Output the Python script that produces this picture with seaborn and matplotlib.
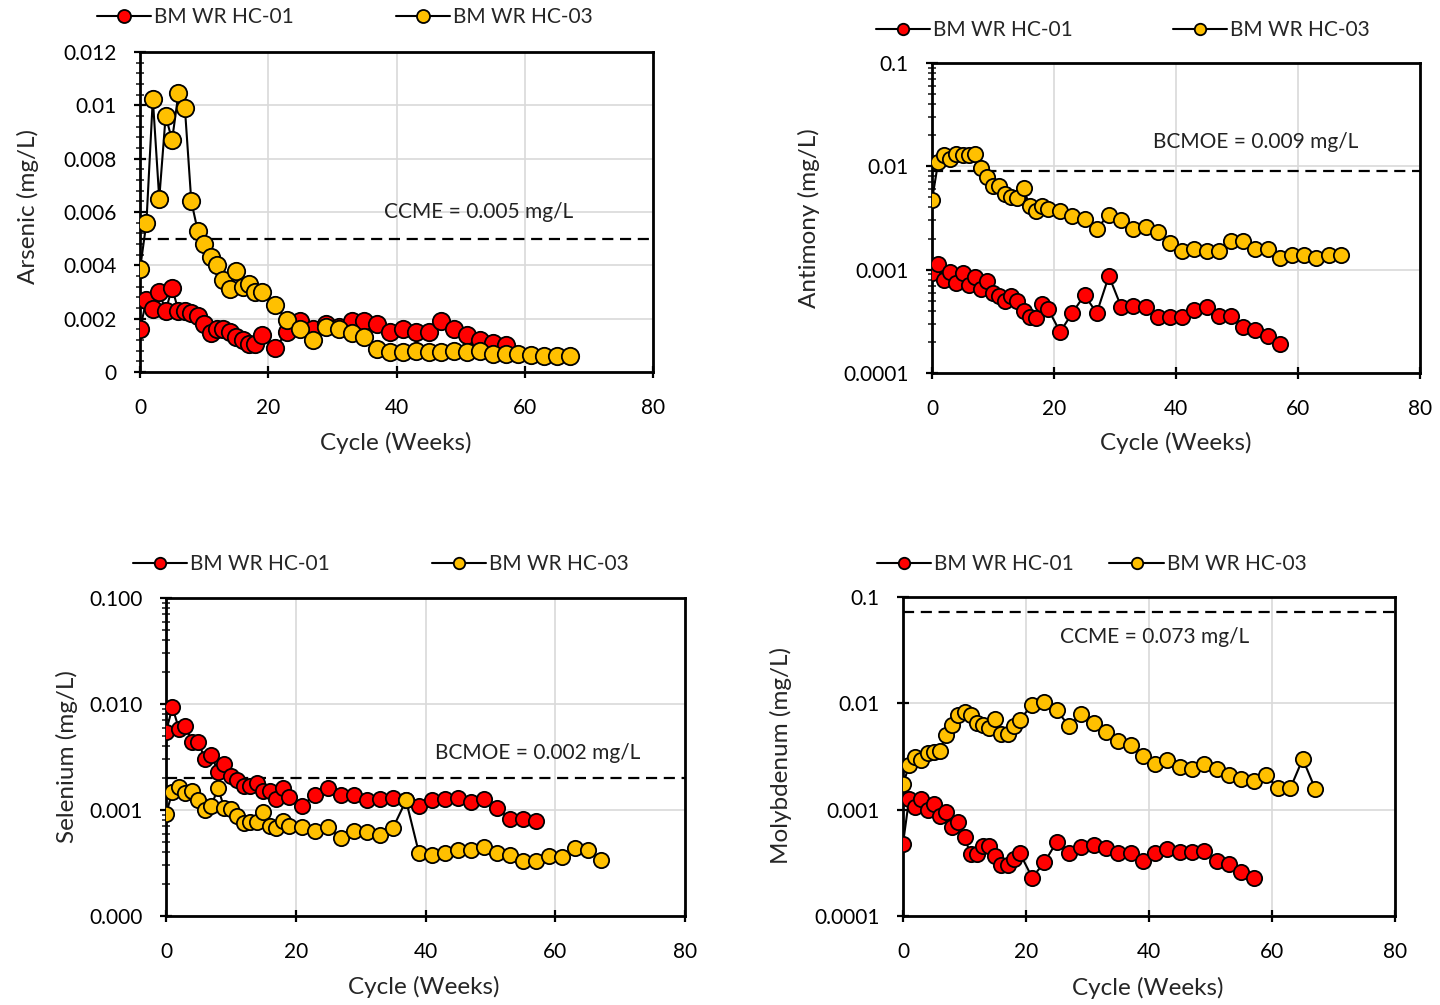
import matplotlib
matplotlib.use("Agg")
import matplotlib.pyplot as plt
import seaborn as sns

sns.set_style("ticks")
plt.rcParams["font.family"] = ["Lato", "DejaVu Sans"]

# ------------------ Dados ------------------ #
semanas_hc01 = [0, 1, 2, 3, 4, 5, 6, 7, 8, 9, 10, 11, 12, 13, 14, 15, 16, 17, 18, 19,
                21, 23, 25, 27, 29, 31, 33, 35, 37, 39, 41, 43, 45, 47, 49, 51, 53, 55, 57]
semanas_hc03 = [0, 1, 2, 3, 4, 5, 6, 7, 8, 9, 10, 11, 12, 13, 14, 15, 16, 17, 18, 19,
                21, 23, 25, 27, 29, 31, 33, 35, 37, 39, 41, 43, 45, 47, 49, 51, 53, 55, 57,
                59, 61, 63, 65, 67]

arsenico_hc01 = [0.0016, 0.0027, 0.00235, 0.003, 0.0023, 0.00315, 0.0023, 0.0023, 0.0022, 0.0021,
                 0.0018, 0.00145, 0.0016, 0.0016, 0.0015, 0.0013, 0.0012, 0.00105, 0.00105, 0.0014,
                 0.0009, 0.0015, 0.0019, 0.0016, 0.0018, 0.0017, 0.0019, 0.0019, 0.0018, 0.0015,
                 0.0016, 0.0015, 0.0015, 0.0019, 0.0016, 0.0014, 0.0012, 0.0011, 0.001]
arsenico_hc03 = [0.00385, 0.0056, 0.01025, 0.0065, 0.0096, 0.0087, 0.01045, 0.0099, 0.0064, 0.0053,
                 0.0048, 0.0043, 0.004, 0.00345, 0.0031, 0.0038, 0.0032, 0.0033, 0.003, 0.003,
                 0.0025, 0.00195, 0.0016, 0.0012, 0.0017, 0.0016, 0.00145, 0.0013, 0.00085, 0.00075,
                 0.00075, 0.00078, 0.00075, 0.00075, 0.00077, 0.00075, 0.00079, 0.00069, 0.00069,
                 0.00069, 0.00062, 0.00059, 0.00059, 0.00059]

antimonio_hc01 = [0.00093, 0.00113, 0.00079, 0.00095, 0.00075, 0.00092, 0.00071, 0.00084, 0.00065, 0.00078,
                  0.0006, 0.00055, 0.0005, 0.00055, 0.0005, 0.0004, 0.00035, 0.00034, 0.00047, 0.00042,
                  0.00025, 0.00038, 0.00057, 0.00038, 0.00087, 0.00044, 0.00045, 0.00044, 0.00035, 0.00035,
                  0.00035, 0.00041, 0.00044, 0.00036, 0.00036, 0.00028, 0.00026, 0.00023, 0.00019]
antimonio_hc03 = [0.0047, 0.0109, 0.0128, 0.0117, 0.0133, 0.0128, 0.0128, 0.0133, 0.0097, 0.0078,
                  0.0065, 0.0064, 0.0054, 0.005, 0.0049, 0.0062, 0.0041, 0.0037, 0.0041, 0.0039,
                  0.0037, 0.0033, 0.0031, 0.0025, 0.0034, 0.003, 0.0025, 0.0026, 0.0023, 0.0018,
                  0.0015, 0.0016, 0.0015, 0.0015, 0.0019, 0.0019, 0.0016, 0.0016, 0.0013, 0.0014,
                  0.0014, 0.0013, 0.0014, 0.0014]

selenio_hc01 = [0.0055, 0.0093, 0.0058, 0.0062, 0.0044, 0.0044, 0.003, 0.0033, 0.0023, 0.0027,
                0.0021, 0.0019, 0.0017, 0.0017, 0.0018, 0.0015, 0.0015, 0.00127, 0.0016, 0.00133,
                0.0011, 0.0014, 0.0016, 0.0014, 0.0014, 0.00124, 0.00128, 0.0013, 0.00124, 0.00108,
                0.00124, 0.00126, 0.0013, 0.0012, 0.00126, 0.00104, 0.00083, 0.00082, 0.00078]
selenio_hc03 = [0.00092, 0.00148, 0.00166, 0.00146, 0.0015, 0.00123, 0.001, 0.0011, 0.0016, 0.00105,
                0.00102, 0.00088, 0.00075, 0.00077, 0.00077, 0.00096, 0.00071, 0.00068, 0.00078, 0.00071,
                0.00069, 0.00063, 0.00069, 0.00054, 0.00063, 0.00062, 0.00058, 0.00068, 0.00123, 0.00039,
                0.00038, 0.00039, 0.00042, 0.00042, 0.00045, 0.00039, 0.00038, 0.00033, 0.00033, 0.00037,
                0.00036, 0.00044, 0.00042, 0.00034]

molibdenio_hc01 = [0.00048, 0.00127, 0.00106, 0.00127, 0.001, 0.00114, 0.00087, 0.00095, 0.00068, 0.00077,
                   0.00055, 0.00038, 0.00038, 0.00046, 0.00046, 0.00037, 0.0003, 0.0003, 0.00034, 0.00039,
                   0.00023, 0.00032, 0.0005, 0.00039, 0.00045, 0.00047, 0.00044, 0.00039, 0.00039, 0.00033,
                   0.00039, 0.00043, 0.0004, 0.0004, 0.00041, 0.00033, 0.00031, 0.00026, 0.00023]
molibdenio_hc03 = [0.00173, 0.00261, 0.00313, 0.00295, 0.0034, 0.0035, 0.0036, 0.005, 0.0062, 0.0077,
                   0.0083, 0.0077, 0.0065, 0.0062, 0.0059, 0.0072, 0.0052, 0.0052, 0.0061, 0.007,
                   0.0097, 0.0103, 0.0086, 0.0061, 0.008, 0.0065, 0.0054, 0.0044, 0.0041, 0.0032,
                   0.0027, 0.0029, 0.0025, 0.0024, 0.0027, 0.0024, 0.0021, 0.00196, 0.00186, 0.0021,
                   0.0016, 0.0016, 0.003, 0.00158]

rotulos_series = ["BM WR HC-01", "BM WR HC-03"]
ticks_x = [0, 20, 40, 60, 80]

ticks_as = [0, 0.002, 0.004, 0.006, 0.008, 0.01, 0.012]
rotulos_as = ["0", "0.002", "0.004", "0.006", "0.008", "0.01", "0.012"]
ticks_log = [0.0001, 0.001, 0.01, 0.1]
rotulos_log = ["0.0001", "0.001", "0.01", "0.1"]
rotulos_se = ["0.000", "0.001", "0.010", "0.100"]

# ------------------ Estilo ------------------ #
COR_HC01 = "#ff0000"
COR_HC03 = "#ffc000"
FONTE = 15
FONTE_ROTULO = 17.5
W, H = 1440, 1005


def pos_eixo(esq, dir_, topo, base):
    return [esq / W, 1 - base / H, (dir_ - esq) / W, (base - topo) / H]


def desenhar_painel(ax, y01, y03, ylabel, limite, texto, xy_texto, pos_xlabel, pos_ylabel,
                    log=True, yticks=None, ylabels=None, menores=True, tam_marcador=12):
    sns.lineplot(x=semanas_hc01, y=y01, ax=ax, color="black", lw=1.5, marker="o",
                 markersize=tam_marcador, markerfacecolor=COR_HC01, markeredgecolor="black",
                 markeredgewidth=1.3, label=rotulos_series[0], zorder=3)
    sns.lineplot(x=semanas_hc03, y=y03, ax=ax, color="black", lw=1.5, marker="o",
                 markersize=tam_marcador, markerfacecolor=COR_HC03, markeredgecolor="black",
                 markeredgewidth=1.3, label=rotulos_series[1], zorder=3)
    ax.axhline(limite, color="black", lw=1.6, ls=(0, (5, 3)), zorder=2)
    ax.text(xy_texto[0], xy_texto[1], texto, transform=ax.transAxes, fontsize=FONTE,
            color="#222222", ha="left", va="center")

    if log:
        ax.set_yscale("log")
    ax.set_xlim(0, 80)
    ax.set_ylim(yticks[0], yticks[-1])
    ax.set_xticks(ticks_x)
    ax.set_xticklabels([str(t) for t in ticks_x])
    ax.set_yticks(yticks)
    ax.set_yticklabels(ylabels)
    if log and menores:
        ax.yaxis.set_minor_locator(matplotlib.ticker.LogLocator(base=10, subs=range(2, 10)))
    elif log:
        ax.yaxis.set_minor_locator(matplotlib.ticker.NullLocator())
    else:
        ax.yaxis.set_minor_locator(matplotlib.ticker.MultipleLocator(0.0004))
    ax.yaxis.set_minor_formatter(matplotlib.ticker.NullFormatter())

    ax.grid(True, which="major", color="#d9d9d9", lw=1.2)
    ax.set_axisbelow(True)
    for lado in ax.spines.values():
        lado.set_linewidth(2)
        lado.set_color("black")
    ax.tick_params(axis="both", which="major", labelsize=FONTE, length=8, width=1.6,
                   direction="inout", colors="black")
    ax.tick_params(axis="x", which="major", pad=15)
    ax.tick_params(axis="y", which="major", pad=13)
    ax.tick_params(axis="y", which="minor", length=6, width=1.2, direction="inout")

    ax.set_xlabel("Cycle (Weeks)", fontsize=FONTE_ROTULO)
    ax.set_ylabel(ylabel, fontsize=FONTE_ROTULO)
    ax.xaxis.set_label_coords(pos_xlabel[0] / W, 1 - pos_xlabel[1] / H, transform=fig.transFigure)
    ax.yaxis.set_label_coords(pos_ylabel[0] / W, 1 - pos_ylabel[1] / H, transform=fig.transFigure)
    ax.xaxis.label.set_verticalalignment("center")
    ax.yaxis.label.set_verticalalignment("center")


fig = plt.figure(figsize=(14.4, 10.05), dpi=100)

ax1 = fig.add_axes(pos_eixo(140, 653, 52, 372))
ax2 = fig.add_axes(pos_eixo(932, 1420, 63, 373))
ax3 = fig.add_axes(pos_eixo(166, 685, 598, 916))
ax4 = fig.add_axes(pos_eixo(903, 1395, 597, 916))

desenhar_painel(ax1, arsenico_hc01, arsenico_hc03, "Arsenic (mg/L)", 0.005,
                "CCME = 0.005 mg/L", (0.475, 0.5), (396, 443), (28, 207), log=False,
                yticks=ticks_as, ylabels=rotulos_as, tam_marcador=12.5)
desenhar_painel(ax2, antimonio_hc01, antimonio_hc03, "Antimony (mg/L)", 0.009,
                "BCMOE = 0.009 mg/L", (0.452, 0.745), (1176, 443), (809, 218),
                yticks=ticks_log, ylabels=rotulos_log, tam_marcador=11)
desenhar_painel(ax3, selenio_hc01, selenio_hc03, "Selenium (mg/L)", 0.002,
                "BCMOE = 0.002 mg/L", (0.519, 0.512), (424, 987), (67, 757),
                yticks=ticks_log, ylabels=rotulos_se, tam_marcador=11)
desenhar_painel(ax4, molibdenio_hc01, molibdenio_hc03, "Molybdenum (mg/L)", 0.073,
                "CCME = 0.073 mg/L", (0.319, 0.875), (1148, 988), (781, 755),
                yticks=ticks_log, ylabels=rotulos_log, menores=False, tam_marcador=11)

# Legendas acima de cada painel
posicoes_legenda = [(ax1, 97, 17, 4.9), (ax2, 876, 30, 4.8), (ax3, 133, 564, 4.9), (ax4, 877, 564, 1.7)]
for ax, px, py, espaco in posicoes_legenda:
    ax.legend(loc="center left", bbox_to_anchor=(px / W, 1 - py / H), bbox_transform=fig.transFigure,
              ncol=2, frameon=False, fontsize=FONTE, handlelength=2.6, handletextpad=0.15,
              columnspacing=espaco, borderpad=0, borderaxespad=0, markerscale=0.75)

fig.savefig("out.png", dpi=100, facecolor="white")
plt.close(fig)
